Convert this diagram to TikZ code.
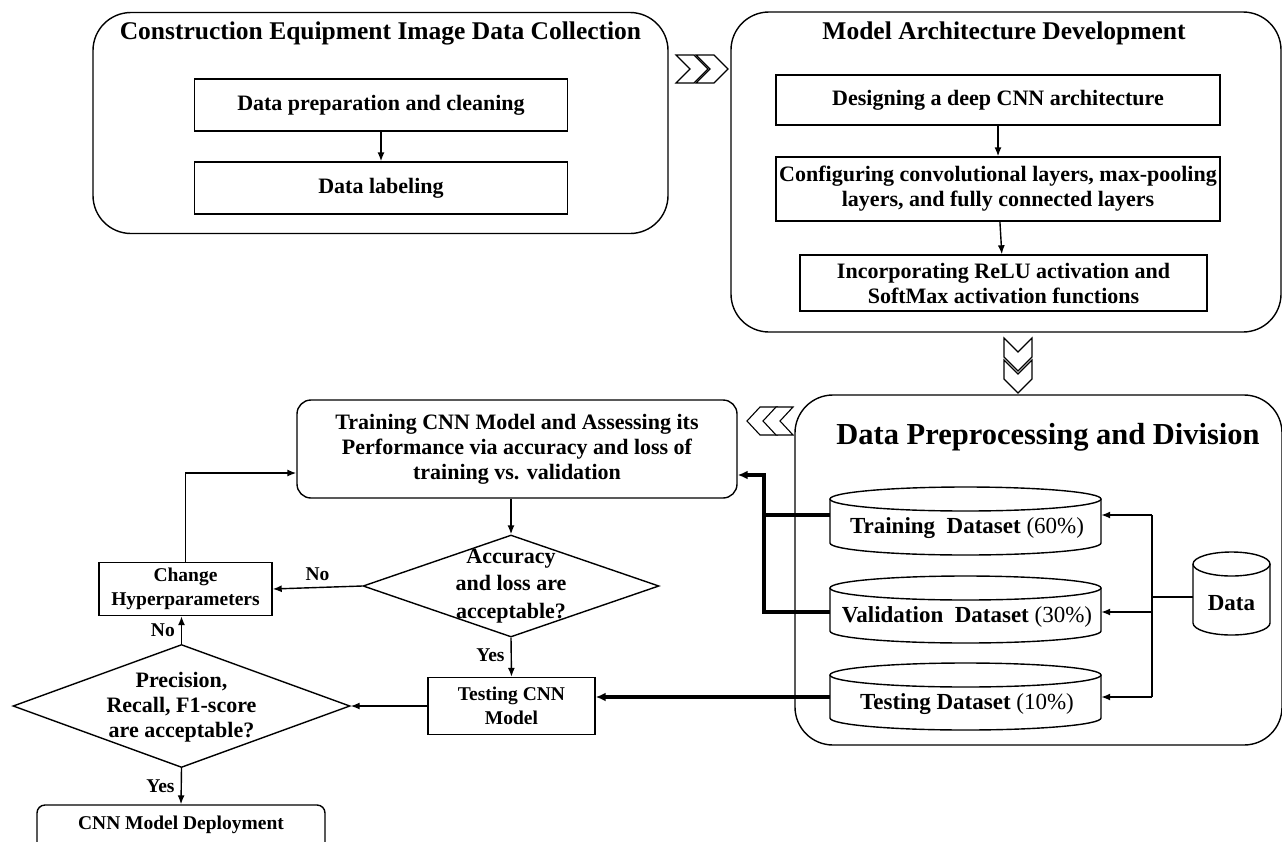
\documentclass[tikz,border=0pt]{standalone}
\usepackage{fontspec}
\setmainfont{Liberation Serif}
\usetikzlibrary{arrows.meta,shapes.geometric,calc}
\newcommand\bodyf{\fontsize{22}{25}\selectfont\bfseries}
\newcommand\cylf{\fontsize{23}{25}\selectfont\bfseries}
\newcommand\smallf{\fontsize{19.5}{24}\selectfont\bfseries}
\newcommand\cylshape[5]{%
  \draw[thinl] (#1,-#2-#5) -- (#1,-#4+#5) arc[start angle=180,end angle=360,x radius={(#3-#1)/2},y radius=#5] -- (#3,-#2-#5);
  \draw[thinl] ({(#1+#3)/2},-#2-#5) ellipse[x radius={(#3-#1)/2},y radius=#5];}
\newcommand\chevR[5]{\draw[chev] (#1,-#2) -- ++({#3-#5},0) -- ++(#5,{-#4/2}) -- ++(-#5,{-#4/2}) -- ++({-#3+#5},0) -- ++(#5,{#4/2}) -- cycle;}
\newcommand\chevL[5]{\draw[chev] (#1,{-#2-#4/2}) -- ++(#5,{#4/2}) -- ++({#3-#5},0) -- ++(-#5,{-#4/2}) -- ++(#5,{-#4/2}) -- ++({-#3+#5},0) -- cycle;}
\newcommand\chevD[5]{\draw[chev] (#1,-#2) -- ++({#3/2},-#5) -- ++({#3/2},#5) -- ++(0,{-#4+#5}) -- ++({-#3/2},-#5) -- ++({-#3/2},#5) -- cycle;}
\begin{document}
\begin{tikzpicture}[x=1pt,y=1pt,
  thinl/.style={line width=1.4pt},
  chev/.style={line width=1.1pt, fill=white, line join=miter},
  bigbox/.style={draw, line width=1.4pt, rounded corners=38pt, inner sep=0pt},
  stepbox/.style={draw, line width=1.4pt, inner sep=0pt, align=center, font=\bodyf},
  smallbox/.style={draw, line width=1.4pt, inner sep=0pt, align=center, font=\smallf},
  anchorbox/.style={inner sep=0pt},
  arr/.style={line width=1.4pt, -{Latex[length=9pt,width=7pt]}},
  plain/.style={line width=1.4pt},
  thickarr/.style={line width=3.6pt, -{Latex[length=10pt,width=9pt]}},
  thickl/.style={line width=3.6pt},
  lab/.style={font=\smallf, inner sep=0pt},
  ttl/.style={font=\fontsize{25.5}{28}\selectfont\bfseries, inner sep=0pt},
]
\useasboundingbox (0,0) rectangle (1282,-841);

% ---- Box 1
\node[bigbox, minimum width=575, minimum height=221] (b1) at (380.5,-123) {};
\node[ttl] (t1) at (380.5,-33) {Construction Equipment Image Data Collection};
\node[stepbox, minimum width=373, minimum height=52] (prep) at (381,-105) {Data preparation and cleaning};
\node[stepbox, minimum width=373, minimum height=52] (labl) at (381,-188) {Data labeling};
\draw[arr] (prep) -- (labl);

% ---- right chevrons
\chevR{676}{55}{32}{28}{14}
\chevR{696}{55}{32}{28}{14}

% ---- Box 2
\node[bigbox, minimum width=550, minimum height=320] (b2) at (1006,-172) {};
\node[ttl] (t2) at (1004,-33) {Model Architecture Development};
\node[stepbox, minimum width=444, minimum height=50] (des) at (998,-100) {Designing a deep CNN architecture};
\node[stepbox, minimum width=444, minimum height=64] (conf) at (998,-189) {Configuring convolutional layers, max-pooling\\layers, and fully connected layers};
\node[stepbox, minimum width=407, minimum height=56] (inc) at (1003.5,-283) {Incorporating ReLU activation and\\SoftMax activation functions};
\draw[arr] (des) -- (conf);
\draw[arr] (conf) -- (inc);

% ---- down chevrons
\chevD{1004}{338}{28}{33}{14}
\chevD{1004}{360}{28}{33}{14}

% ---- Box 3
\node[bigbox, minimum width=487, minimum height=350] (b3) at (1038.5,-570) {};
\node[font=\fontsize{30.5}{33}\selectfont\bfseries, inner sep=0pt] (t3) at (1048,-437) {Data Preprocessing and Division};

% ---- left chevrons
\chevL{747}{407}{30}{28}{13}
\chevL{763}{407}{30}{28}{13}

% ---- cylinders
\cylshape{830}{487}{1101}{555}{12}
\cylshape{830}{576}{1101}{643}{12}
\cylshape{830}{663}{1101}{730}{12}
\cylshape{1193}{552}{1270}{635}{12}
\node[anchorbox, minimum width=271, minimum height=30] (train) at (965.5,-515) {};
\node[anchorbox, minimum width=271, minimum height=30] (val) at (965.5,-612) {};
\node[anchorbox, minimum width=271, minimum height=30] (test) at (965.5,-697) {};
\node[anchorbox, minimum width=77, minimum height=40] (data) at (1231.5,-597) {};
\node[font=\cylf, inner sep=0pt] at (967,-528) {Training\ \ Dataset \mdseries(60\%)};
\node[font=\cylf, inner sep=0pt] at (967,-617) {Validation\ \ Dataset \mdseries(30\%)};
\node[font=\cylf, inner sep=0pt] at (967,-704) {Testing Dataset \mdseries(10\%)};
\node[font=\cylf, inner sep=0pt] at (1231.5,-603) {Data};

\coordinate (vt) at (1152,-515);
\coordinate (vb) at (1152,-697);
\draw[plain] (vt) -- (vb);
\draw[plain] (data.west) -- (data.west -| vt);
\draw[arr] (vt) -- (train.east);
\draw[arr] (vt |- val.east) -- (val.east);
\draw[arr] (vb) -- (test.east);

% ---- training box
\node[stepbox, rounded corners=14pt, minimum width=440, minimum height=98] (tr) at (517,-449) {Training CNN Model and Assessing its\\Performance via accuracy and loss of\\training vs. validation};
\coordinate (j) at (764,-515);
\draw[thickarr] (train.west) -- (j) |- ([yshift=-26pt]tr.east);
\draw[thickl] (val.west) -| (j);

% ---- decision 1
\node[diamond, draw, line width=1.4pt, minimum width=296, minimum height=102, inner sep=0pt] (d1) at (511,-586) {};
\node[font=\fontsize{22}{27.5}\selectfont\bfseries, align=center, inner sep=0pt] at (511,-586) {Accuracy\\and loss are\\acceptable?};
\draw[arr] (tr.south -| d1.north) -- (d1.north);

% ---- change hyperparameters
\node[smallbox, minimum width=173, minimum height=53] (ch) at (185.5,-589) {Change\\Hyperparameters};
\draw[arr] (d1.west) -- node[lab, above=6pt] {No} (ch.east);
\draw[arr] (ch.north) |- ([yshift=-24pt]tr.west);

% ---- testing CNN model
\node[smallbox, minimum width=167, minimum height=57] (tb) at (511.5,-706) {Testing CNN\\Model};
\draw[arr] (d1.south) -- node[lab, left=6pt, pos=0.45] {Yes} (tb.north);
\draw[thickarr] (test.west) -- (test.west -| tb.east);

% ---- decision 2
\node[diamond, draw, line width=1.4pt, minimum width=337, minimum height=123, inner sep=0pt] (d2) at (181.5,-706) {};
\node[font=\bodyf, align=center, inner sep=0pt] at (181.5,-707) {Precision,\\Recall, F1-score\\are acceptable?};
\draw[arr] (tb.west) -- (d2.east);
\draw[arr] (d2.north) -- node[lab, left=6pt] {No} (d2.north |- ch.south);

% ---- deployment
\node[smallbox, rounded corners=8pt, minimum width=288, minimum height=46] (dep) at (181,-828) {};
\node[font=\smallf, inner sep=0pt] at (181,-825) {CNN Model Deployment};
\draw[arr] (d2.south) -- node[lab, left=6pt] {Yes} (dep.north);
\end{tikzpicture}
\end{document}
